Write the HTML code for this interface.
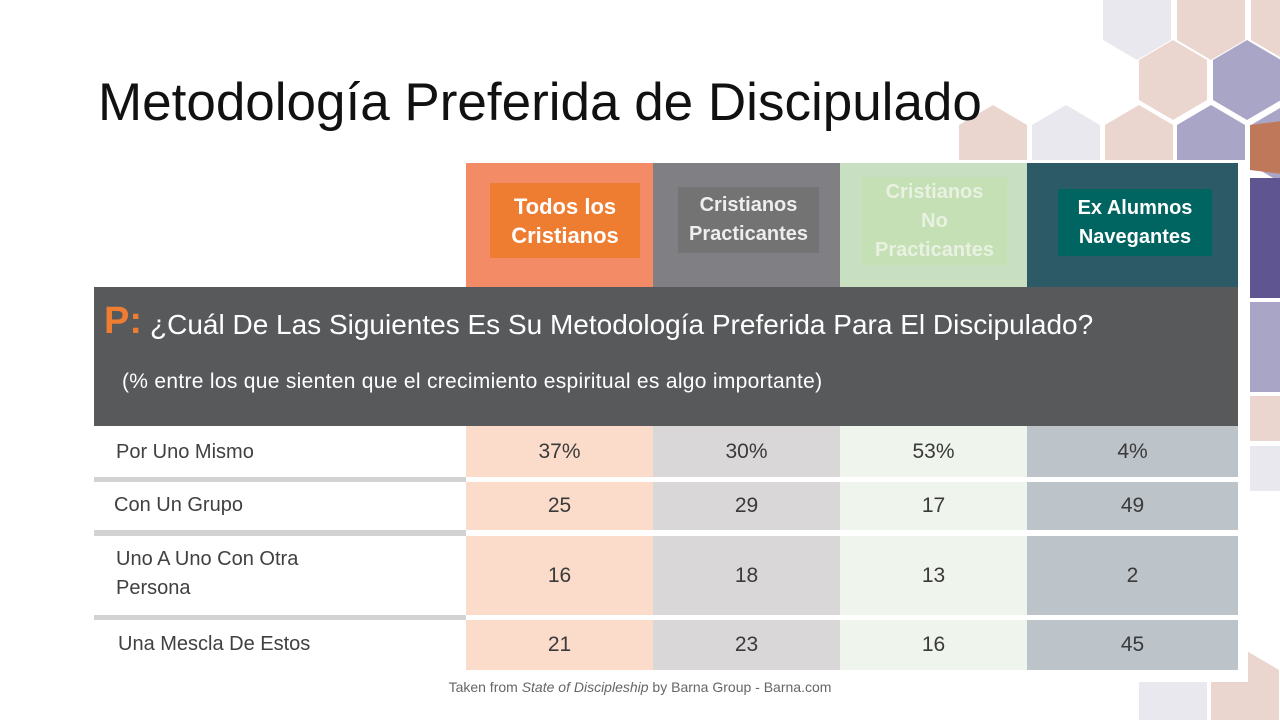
<!DOCTYPE html>
<html><head><meta charset="utf-8"><style>
body{margin:0;width:1280px;height:720px;position:relative;overflow:hidden;background:#fff;font-family:"Liberation Sans",sans-serif}
.a{position:absolute}
.t{font-size:53px;color:#111;left:98px;top:72px;white-space:nowrap}
.hd{display:flex;align-items:center;justify-content:center;text-align:center;font-weight:bold;font-size:20px;line-height:29px}
.c{display:flex;align-items:center;justify-content:center;font-size:21px;color:#3a3a3a}
.l{font-size:20px;color:#404040;left:116px;line-height:29px}
</style></head><body>
<svg class="a" style="left:0;top:0" width="1280" height="720">
<g>
<polygon points="1137,-20 1171,0 1171,40 1137,60 1103,40 1103,0" fill="#e9e8ef"/>
<polygon points="1211,-20 1245,0 1245,40 1211,60 1177,40 1177,0" fill="#ead6ce"/>
<polygon points="1285,-20 1319,0 1319,40 1285,60 1251,40 1251,0" fill="#ead6ce"/>
<polygon points="1173,40 1207,60 1207,100 1173,120 1139,100 1139,60" fill="#ead6ce"/>
<polygon points="1247,40 1281,60 1281,100 1247,120 1213,100 1213,60" fill="#a9a5c6"/>
<polygon points="993,105 1027,125 1027,165 993,185 959,165 959,125" fill="#ead6ce"/>
<polygon points="1066,105 1100,125 1100,165 1066,185 1032,165 1032,125" fill="#e9e8ef"/>
<polygon points="1139,105 1173,125 1173,165 1139,185 1105,165 1105,125" fill="#ead6ce"/>
<polygon points="1211,105 1245,125 1245,165 1211,185 1177,165 1177,125" fill="#a9a5c6"/>
<polygon points="1285,105 1319,125 1319,165 1285,185 1251,165 1251,125" fill="#a9a5c6"/>
<polygon points="1290,120 1320,140 1320,160 1290,175 1250,170 1250,125" fill="#c0785a"/>
<rect x="1250" y="178" width="30" height="120" fill="#5f5590"/>
<rect x="1250" y="302" width="30" height="90" fill="#a9a5c6"/>
<rect x="1250" y="396" width="30" height="45" fill="#ead6ce"/>
<rect x="1250" y="446" width="30" height="45" fill="#e9e8ef"/>
<polygon points="1173,660 1207,680 1207,720 1139,720 1139,680" fill="#e9e8ef"/>
<polygon points="1245,650 1279,670 1279,720 1211,720 1211,670" fill="#ead6ce"/>
</g>
<rect x="94" y="160" width="1154" height="522" fill="#fff"/>
</svg>
<div class="a t">Metodología Preferida de Discipulado</div>
<div class="a" style="left:466px;top:163px;width:187px;height:124px;background:#f28b66"></div>
<div class="a" style="left:653px;top:163px;width:187px;height:124px;background:#807f84"></div>
<div class="a" style="left:840px;top:163px;width:187px;height:124px;background:#c9dfc1"></div>
<div class="a" style="left:1027px;top:163px;width:211px;height:124px;background:#2c5a66"></div>
<div class="a hd" style="left:490px;top:183px;width:150px;height:75px;background:#ee7d32;color:#fff;font-size:22px">Todos los<br>Cristianos</div>
<div class="a hd" style="left:678px;top:187px;width:141px;height:66px;background:#737373;color:#eee">Cristianos<br>Practicantes</div>
<div class="a hd" style="left:862px;top:177px;width:145px;height:88px;background:#c5e0b4;color:#e8f1e2">Cristianos<br>No<br>Practicantes</div>
<div class="a hd" style="left:1058px;top:189px;width:154px;height:67px;background:#006461;color:#fff">Ex Alumnos<br>Navegantes</div>
<div class="a" style="left:94px;top:287px;width:1144px;height:139px;background:#58595b"></div>
<div class="a" style="left:104px;top:300px;color:#ee7d32;font-weight:bold;font-size:38px">P:</div>
<div class="a" style="left:150px;top:309px;color:#fff;font-size:28px;white-space:nowrap">¿Cuál De Las Siguientes Es Su Metodología Preferida Para El Discipulado?</div>
<div class="a" style="left:122px;top:370px;color:#fff;font-size:21px;letter-spacing:0.3px;white-space:nowrap">(% entre los que sienten que el crecimiento espiritual es algo importante)</div>

<div class="a" style="left:94px;top:477px;width:372px;height:5px;background:#d2d2d2"></div>
<div class="a" style="left:94px;top:530px;width:372px;height:6px;background:#d2d2d2"></div>
<div class="a" style="left:94px;top:615px;width:372px;height:5px;background:#d2d2d2"></div>

<div class="a l" style="top:438px">Por Uno Mismo</div>
<div class="a l" style="top:491px;left:114px">Con Un Grupo</div>
<div class="a l" style="top:545px">Uno A Uno Con Otra<br>Persona</div>
<div class="a l" style="top:630px;left:118px">Una Mescla De Estos</div>

<div id="g"></div>
<script>
var rows=[[426,51,["37%","30%","53%","4%"]],[482,48,["25","29","17","49"]],[536,79,["16","18","13","2"]],[620,50,["21","23","16","45"]]];
var cols=[[466,187,"#fbdccb"],[653,187,"#d9d7d8"],[840,187,"#eff4ec"],[1027,211,"#bcc3c9"]];
var h="";
rows.forEach(function(r){cols.forEach(function(c,i){h+='<div class="a c" style="left:'+c[0]+'px;top:'+r[0]+'px;width:'+c[1]+'px;height:'+r[1]+'px;background:'+c[2]+'">'+r[2][i]+'</div>';});});
document.getElementById("g").innerHTML=h;
</script>
<div class="a" style="left:0;width:1280px;top:679px;text-align:center;font-size:14px;color:#666">Taken from <i>State of Discipleship</i> by Barna Group - Barna.com</div>
</body></html>
